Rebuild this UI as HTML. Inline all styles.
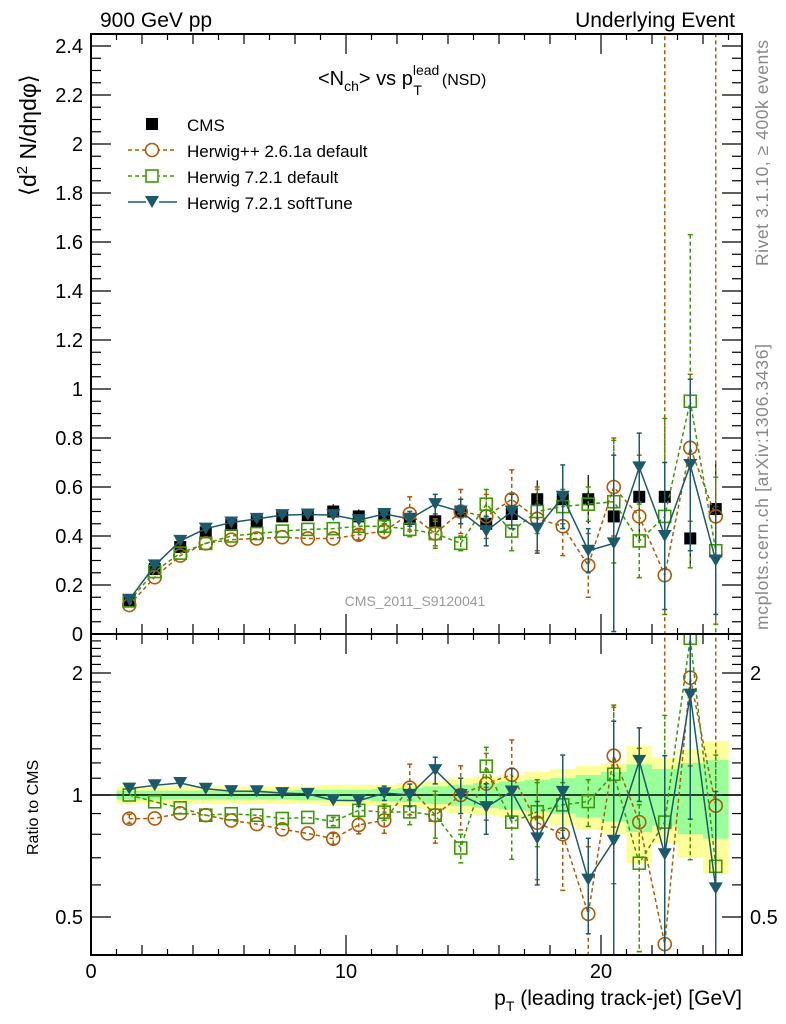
<!DOCTYPE html>
<html><head><meta charset="utf-8"><style>
html,body{margin:0;padding:0;background:#fff;width:786px;height:1024px;overflow:hidden}
svg{display:block;font-family:"Liberation Sans",sans-serif}
</style></head><body>
<svg id="c" width="786" height="1024" viewBox="0 0 786 1024" xmlns="http://www.w3.org/2000/svg"></svg>
<script>
const bins=[1.5,2.5,3.5,4.5,5.5,6.5,7.5,8.5,9.5,10.5,11.5,12.5,13.5,14.5,15.5,16.5,17.5,18.5,19.5,20.5,21.5,22.5,23.5,24.5];
const cms=[0.135,0.265,0.355,0.415,0.445,0.46,0.48,0.485,0.50,0.48,0.485,0.47,0.46,0.50,0.45,0.49,0.55,0.55,0.55,0.48,0.56,0.56,0.39,0.51];
const hwpp=[0.118,0.232,0.32,0.37,0.385,0.39,0.395,0.39,0.39,0.405,0.42,0.49,0.41,0.50,0.48,0.55,0.47,0.44,0.28,0.60,0.48,0.24,0.76,0.48];
const hw72=[0.135,0.255,0.33,0.37,0.40,0.41,0.42,0.427,0.43,0.44,0.44,0.427,0.41,0.37,0.53,0.42,0.50,0.52,0.53,0.54,0.38,0.48,0.95,0.34];
const hwsoft=[0.14,0.28,0.38,0.43,0.455,0.47,0.485,0.488,0.485,0.465,0.49,0.47,0.53,0.50,0.42,0.50,0.43,0.56,0.34,0.37,0.68,0.40,0.69,0.30];
const errHwpp=[0.003,0.004,0.005,0.005,0.006,0.006,0.007,0.008,0.012,0.02,0.03,0.07,0.06,0.09,0.09,0.12,0.13,0.12,0.13,0.2,0.25,9,0.3,9];
const errHw72=[0.003,0.004,0.005,0.005,0.006,0.006,0.007,0.008,0.01,0.015,0.02,0.03,0.05,0.03,0.06,0.08,0.09,0.07,0.07,0.25,0.15,0.4,0.68,0.3];
const errSoft=[0.003,0.004,0.005,0.005,0.006,0.006,0.007,0.008,0.01,0.015,0.02,0.03,0.04,0.05,0.06,0.07,0.1,0.13,0.09,0.36,0.14,0.3,0.35,0.22];
const cmsTot=[0.05,0.05,0.05,0.05,0.05,0.05,0.05,0.05,0.06,0.06,0.06,0.07,0.08,0.1,0.11,0.12,0.14,0.16,0.18,0.2,0.32,0.24,0.3,0.36];
const cmsStat=[0.025,0.025,0.025,0.025,0.025,0.025,0.025,0.03,0.03,0.03,0.035,0.04,0.05,0.06,0.07,0.08,0.09,0.1,0.12,0.14,0.19,0.16,0.2,0.22];
const yTicks=[0,0.2,0.4,0.6,0.8,1,1.2,1.4,1.6,1.8,2,2.2,2.4];
const yTickLabels=["0","0.2","0.4","0.6","0.8","1","1.2","1.4","1.6","1.8","2","2.2","2.4"];
const xTicks=[0,10,20];

const NS="http://www.w3.org/2000/svg";
const svg=document.getElementById('c');
const L=91,R=742,T1=34,B1=634,B2=955;
const X=v=>L+v*25.5;
const Y=v=>634-v*245;
const YR=r=>795-Math.log2(r)*122;
function el(tag,at,parent){const e=document.createElementNS(NS,tag);for(const k in at)e.setAttribute(k,at[k]);(parent||svg).appendChild(e);return e;}
function txt(s,x,y,at,parent){const e=el('text',Object.assign({x:x,y:y},at),parent);e.textContent=s;return e;}

const defs=el('defs',{});
const c1=el('clipPath',{id:'cp1'},defs);el('rect',{x:L,y:T1,width:R-L,height:B1-T1},c1);
const c2=el('clipPath',{id:'cp2'},defs);el('rect',{x:L,y:B1,width:R-L,height:B2-B1},c2);

const bandG=el('g',{'clip-path':'url(#cp2)'});


bins.forEach((b,i)=>{
  el('rect',{x:X(b-0.5),y:YR(1+cmsTot[i]),width:25.6,height:YR(1-cmsTot[i])-YR(1+cmsTot[i]),fill:'#ffff99'},bandG);
  el('rect',{x:X(b-0.5),y:YR(1+cmsStat[i]),width:25.6,height:YR(1-cmsStat[i])-YR(1+cmsStat[i]),fill:'#99ff99'},bandG);
});
el('line',{x1:L,x2:R,y1:YR(1),y2:YR(1),stroke:'#000','stroke-width':1.5});

const series=[
 {name:'herwigpp-2-6-1a',vals:hwpp,err:errHwpp,color:'#b35900',dash:'4,3',mk:'circle'},
 {name:'herwig-7-2-1-default',vals:hw72,err:errHw72,color:'#3a9a00',dash:'4,3',mk:'square'},
 {name:'herwig-7-2-1-softtune',vals:hwsoft,err:errSoft,color:'#1b5a6a',dash:'',mk:'tri'},
];
function marker(mk,x,y,color,g){
  if(mk==='circle')el('circle',{cx:x,cy:y,r:6.5,fill:'none',stroke:color,'stroke-width':1.6},g);
  else if(mk==='square')el('rect',{x:x-6,y:y-6,width:12,height:12,fill:'none',stroke:color,'stroke-width':1.6},g);
  else if(mk==='tri')el('path',{d:`M${x-7},${y-6}L${x+7},${y-6}L${x},${y+6}Z`,fill:color},g);
  else el('rect',{x:x-6,y:y-6,width:12,height:12,fill:color},g);
}
function drawSeries(s,panel){
  const g=el('g',{'clip-path':panel===1?'url(#cp1)':'url(#cp2)'});
  
  
  const f=panel===1?(i=>Y(s.vals[i])):(i=>YR(s.vals[i]/cms[i]));
  const fe=panel===1?((i,d)=>Y(s.vals[i]+d*s.err[i])):((i,d)=>YR(Math.max(0.01,(s.vals[i]+d*s.err[i]))/cms[i]));
  let d='';bins.forEach((b,i)=>{d+=(i?'L':'M')+X(b)+','+f(i);});
  el('path',{d:d,fill:'none',stroke:s.color,'stroke-width':1.5,'stroke-dasharray':s.dash},g);
  bins.forEach((b,i)=>{
    const y1=fe(i,1),y2=fe(i,-1);
    if(Math.abs(y2-y1)>8){
      el('line',{x1:X(b),x2:X(b),y1:y1,y2:y2,stroke:s.color,'stroke-width':1.5,'stroke-dasharray':s.dash},g);
      el('line',{x1:X(b)-2.5,x2:X(b)+2.5,y1:y1,y2:y1,stroke:s.color,'stroke-width':1.5},g);
      el('line',{x1:X(b)-2.5,x2:X(b)+2.5,y1:y2,y2:y2,stroke:s.color,'stroke-width':1.5},g);
    }
    const m=el('g',{},g);
    
    
    marker(s.mk,X(b),f(i),s.color,m);
  });
}
const cg=el('g',{'clip-path':'url(#cp1)'});


bins.forEach((b,i)=>{
  const m=el('g',{},cg);
  
  
  el('line',{x1:X(b),x2:X(b),y1:Y(cms[i]*(1+cmsTot[i])),y2:Y(cms[i]*(1-cmsTot[i])),stroke:'#000','stroke-width':1.2},m);
  marker('sq',X(b),Y(cms[i]),'#000',m);
});
series.forEach(s=>{drawSeries(s,1);drawSeries(s,2);});

const f1=el('rect',{x:L,y:T1,width:R-L,height:B1-T1,fill:'none',stroke:'#000','stroke-width':2});

const f2=el('rect',{x:L,y:B1,width:R-L,height:B2-B1,fill:'none',stroke:'#000','stroke-width':2});


for(let v=0;v<=25;v++){
  const len=v%10===0?20:(v%2===0?10:6);
  [[T1,1],[B1,-1],[B1,1],[B2,-1]].forEach(([y,dir])=>{
    el('line',{x1:X(v),x2:X(v),y1:y,y2:y+dir*len,stroke:'#000','stroke-width':1.2});
  });
}
xTicks.forEach(v=>{const t=txt(String(v),X(v),978,{'font-size':20,'text-anchor':'middle'});
  });
for(let k=0;k<=48;k++){const v=k*0.05;const len=k%4===0?20:10;
  el('line',{x1:L,x2:L+len,y1:Y(v),y2:Y(v),stroke:'#000','stroke-width':1.2});
  el('line',{x1:R,x2:R-len,y1:Y(v),y2:Y(v),stroke:'#000','stroke-width':1.2});}
yTicks.forEach((v,i)=>{const t=txt(yTickLabels[i],83,Y(v)+7,{'font-size':20,'text-anchor':'end'});
  });
[0.4,0.5,0.6,0.7,0.8,0.9,1,1.1,1.2,1.3,1.4,1.5,1.6,1.7,1.8,1.9,2,2.1,2.2,2.3,2.4,2.5].forEach(r=>{
  const y=YR(r);if(y<B1||y>B2)return;const len=(r===0.5||r===1||r===2)?20:10;
  el('line',{x1:L,x2:L+len,y1:y,y2:y,stroke:'#000','stroke-width':1.2});
  el('line',{x1:R,x2:R-len,y1:y,y2:y,stroke:'#000','stroke-width':1.2});
});
[[2,'2'],[1,'1'],[0.5,'0.5']].forEach(([r,s])=>{const t=txt(s,83,YR(r)+7,{'font-size':20,'text-anchor':'end'});
  });
[[2,'2'],[0.5,'0.5']].forEach(([r,s])=>{const t=txt(s,750,YR(r)+7,{'font-size':20});
  });

let t;
t=txt('900 GeV pp',100,27,{'font-size':21});
t=txt('Underlying Event',735,27,{'font-size':21,'text-anchor':'end'});
t=el('text',{x:318,y:85,'font-size':20});t.innerHTML='&lt;N<tspan font-size="14" dy="6">ch</tspan><tspan dy="-6">&gt; vs p</tspan><tspan font-size="14" dy="-10">lead</tspan><tspan font-size="14" dx="-26" dy="20">T</tspan><tspan font-size="16" dx="20" dy="-10">(NSD)</tspan>';

t=el('text',{transform:'translate(36,196) rotate(-90)','font-size':23});t.innerHTML='⟨d<tspan font-size="15" dy="-9">2</tspan><tspan dy="9"> N/dηdφ⟩</tspan>';

t=txt('Ratio to CMS',0,0,{transform:'translate(38,855) rotate(-90)','font-size':16});
t=el('text',{x:742,y:1005,'font-size':21,'text-anchor':'end'});t.innerHTML='p<tspan font-size="14" dy="6">T</tspan><tspan dy="-6"> (leading track-jet) [GeV]</tspan>';

t=txt('Rivet 3.1.10, ≥ 400k events',0,0,{transform:'translate(768,266) rotate(-90)','font-size':17.5,fill:'#888',textLength:226});
t=txt('mcplots.cern.ch [arXiv:1306.3436]',0,0,{transform:'translate(768,630) rotate(-90)','font-size':17.5,fill:'#888',textLength:286});
t=txt('CMS_2011_S9120041',415,606,{'font-size':14,fill:'#999','text-anchor':'middle'});

const lg=el('g',{});
const leg=[['CMS',null],['Herwig++ 2.6.1a default',series[0]],['Herwig 7.2.1 default',series[1]],['Herwig 7.2.1 softTune',series[2]]];
leg.forEach(([label,s],i)=>{
  const y=124+i*26;const g=el('g',{},lg);
  
  if(s){el('line',{x1:128,x2:177,y1:y,y2:y,stroke:s.color,'stroke-width':1.5,'stroke-dasharray':s.dash},g);
    el('rect',{x:146,y:y-7,width:13,height:14,fill:'#fff'},g);marker(s.mk,152,y,s.color,g);}
  else marker('sq',152,y,'#000',g);
  txt(label,187,y+7,{'font-size':17},g);
});
</script>
</body></html>
